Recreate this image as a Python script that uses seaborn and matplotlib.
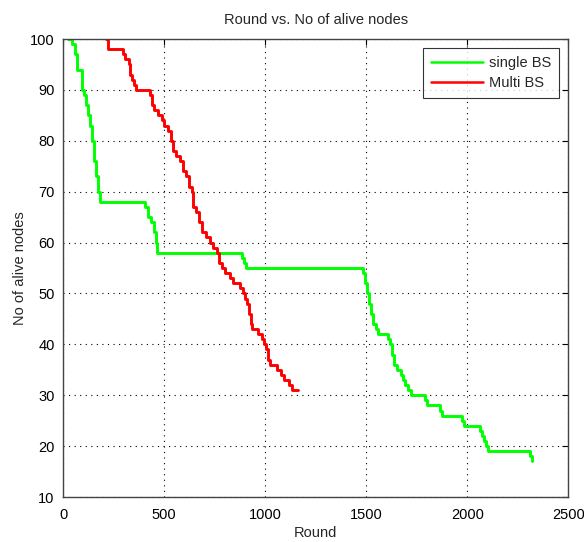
import matplotlib
matplotlib.use("Agg")
import matplotlib.pyplot as plt
import seaborn as sns
import pandas as pd

# ---- data ----
single_rounds = [25, 45, 60, 70, 95, 105, 115, 125, 135, 145, 155, 165, 175, 185,
                 405, 420, 435, 450, 458, 465, 885, 895, 905,
                 1485, 1495, 1505, 1515, 1525, 1535, 1550, 1560, 1610, 1620, 1630,
                 1640, 1655, 1670, 1680, 1690, 1705, 1720, 1790, 1800, 1865, 1875,
                 1975, 1985, 2065, 2075, 2085, 2095, 2105, 2310, 2320]
single_alive = [100, 99, 97, 94, 90, 89, 87, 85, 83, 80, 76, 73, 70, 68,
                67, 65, 64, 62, 60, 58, 57, 56, 55,
                54, 52, 50, 48, 46, 44, 43, 42, 41, 40, 38,
                36, 35, 34, 33, 32, 31, 30, 29, 28, 27, 26,
                25, 24, 23, 22, 21, 20, 19, 18, 17]

multi_rounds = [210, 220, 295, 305, 325, 330, 340, 350, 360, 430, 440, 450, 470,
                490, 500, 520, 535, 545, 560, 580, 595, 610, 625, 640, 645, 660,
                675, 690, 705, 725, 740, 760, 770, 785, 800, 825, 840, 875, 890,
                900, 910, 920, 930, 935, 965, 985, 995, 1005, 1015, 1025, 1060,
                1080, 1095, 1120, 1135, 1165]
multi_alive = [100, 98, 97, 96, 95, 93, 92, 91, 90, 89, 87, 86, 85,
               84, 83, 82, 80, 78, 77, 76, 74, 73, 71, 70, 67, 66,
               64, 62, 61, 60, 59, 58, 56, 55, 54, 53, 52, 51, 50,
               49, 48, 46, 44, 43, 42, 41, 40, 39, 37, 36, 35,
               34, 33, 32, 31, 31]

series_names = ["single BS", "Multi BS"]
x_ticks = [0, 500, 1000, 1500, 2000, 2500]
y_ticks = [10, 20, 30, 40, 50, 60, 70, 80, 90, 100]

df = pd.concat([
    pd.DataFrame({"Round": single_rounds, "Alive": single_alive, "series": series_names[0]}),
    pd.DataFrame({"Round": multi_rounds, "Alive": multi_alive, "series": series_names[1]}),
], ignore_index=True)

sns.set_style("white")
plt.rcParams["font.family"] = ["Liberation Sans", "DejaVu Sans"]

fig = plt.figure(figsize=(5.84, 5.42), dpi=100)
ax = fig.add_axes([0.108, 0.083, 0.865, 0.845])

sns.lineplot(data=df, x="Round", y="Alive", hue="series", sort=False,
             estimator=None, drawstyle="steps-post", linewidth=2.1,
             palette={"single BS": "#00ff00", "Multi BS": "#ff0000"}, ax=ax)

ax.set_xlim(0, 2500)
ax.set_ylim(10, 100)
ax.set_xticks(x_ticks)
ax.set_yticks(y_ticks)
ax.tick_params(direction="in", top=True, right=True, length=4, width=0.8,
               labelsize=10.5, colors="black")
ax.tick_params(axis="x", pad=8)
ax.tick_params(axis="y", pad=6)
ax.grid(True, linestyle=(0, (1, 4)), color="black", linewidth=0.8)
for s in ax.spines.values():
    s.set_visible(True)
    s.set_color("#444444")
    s.set_linewidth(1.0)

ax.set_title("Round vs. No of alive nodes", fontsize=10.5, pad=11)
ax.set_xlabel("Round", fontsize=10.5, labelpad=3)
ax.set_ylabel("No of alive nodes", fontsize=10.5, labelpad=2)

leg = ax.legend(loc="upper right", fontsize=10.5, frameon=True, fancybox=False,
                edgecolor="black", borderaxespad=0.6, handlelength=3.6,
                borderpad=0.55, labelspacing=0.45, handletextpad=0.4)
leg.get_frame().set_linewidth(0.8)
for line in leg.get_lines():
    line.set_linewidth(1.8)

fig.savefig("out.png", dpi=100, facecolor="white")
